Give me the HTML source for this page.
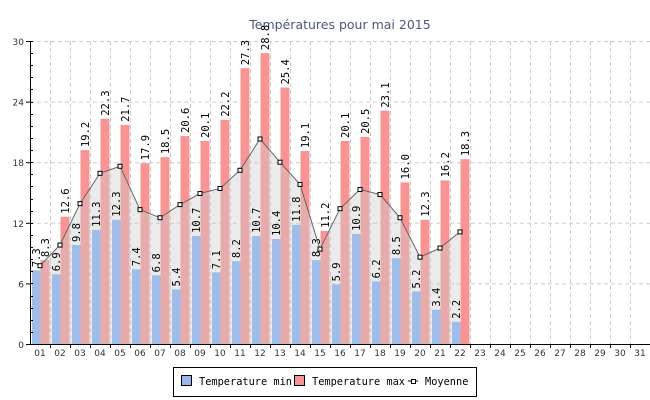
<!DOCTYPE html>
<html><head><meta charset="utf-8"><style>
body{margin:0;background:#fff;width:650px;height:400px;overflow:hidden}
svg{display:block}
</style></head><body>
<svg id="chart" width="650" height="400" xmlns="http://www.w3.org/2000/svg">
<text x="340" y="29" text-anchor="middle" font-family="DejaVu Sans, sans-serif" font-size="12.5" fill="#4a5878">Températures pour mai 2015</text>
<g id="grid"></g><g id="bars"></g><g id="area"></g><g id="bars2"></g><g id="axes"></g><g id="labels"></g>
<g>
<rect x="173.5" y="367.5" width="303" height="29" fill="#fff" stroke="#000"/>
<g><rect x="181.5" y="375.5" width="10" height="10" fill="#97b8ef" stroke="#000"/>
<text x="199" y="385" font-family="DejaVu Sans Mono, monospace" font-size="10.3">Temperature min</text></g>
<g><rect x="294.5" y="375.5" width="10" height="10" fill="#f99494" stroke="#000"/>
<text x="312" y="385" font-family="DejaVu Sans Mono, monospace" font-size="10.3">Temperature max</text></g>
<g><line x1="408" y1="381" x2="418" y2="381" stroke="#000"/><rect x="411.5" y="379.5" width="4" height="4" fill="#fff" stroke="#000"/>
<text x="425" y="385" font-family="DejaVu Sans Mono, monospace" font-size="10.3">Moyenne</text></g>
</g>
</svg>
<script>
const days=["01","02","03","04","05","06","07","08","09","10","11","12","13","14","15","16","17","18","19","20","21","22","23","24","25","26","27","28","29","30","31"];
const minTemps=[7.3,6.9,9.8,11.3,12.3,7.4,6.8,5.4,10.7,7.1,8.2,10.7,10.4,11.8,8.3,5.9,10.9,6.2,8.5,5.2,3.4,2.2];
const maxTemps=[8.3,12.6,19.2,22.3,21.7,17.9,18.5,20.6,20.1,22.2,27.3,28.8,25.4,19.1,11.2,20.1,20.5,23.1,16.0,12.3,16.2,18.3];
const avgTemps=[7.75,9.8,13.9,16.9,17.6,13.3,12.5,13.8,14.9,15.4,17.2,20.3,18.0,15.8,9.4,13.4,15.3,14.8,12.5,8.6,9.5,11.1];
const yTicks=[0,6,12,18,24,30];
const NS="http://www.w3.org/2000/svg";
const X0=30,BW=20,Y0=344,YT=41,YMAX=30;
const xb=i=>X0+i*BW;
const y=v=>Y0-(v/YMAX)*(Y0-YT);
function mk(tag,attrs,parent,txt){const e=document.createElementNS(NS,tag);for(const k in attrs)e.setAttribute(k,attrs[k]);if(txt!==undefined)e.textContent=txt;parent.appendChild(e);return e;}
const grid=document.getElementById('grid'),bars=document.getElementById('bars'),bars2=document.getElementById('bars2'),area=document.getElementById('area'),axes=document.getElementById('axes'),labels=document.getElementById('labels');
const R=X0+days.length*BW;
yTicks.forEach(t=>{if(t>0){const l=mk('line',{x1:X0,x2:R,y1:y(t)+.5,y2:y(t)+.5,stroke:'#ccc','stroke-dasharray':'4,3'},grid);

}
const tx=mk('text',{x:X0-6,y:y(t)+4,'text-anchor':'end','font-family':'DejaVu Sans, sans-serif','font-size':'9',fill:'#333'},axes,String(t));


mk('line',{x1:X0-4,x2:X0,y1:y(t)+.5,y2:y(t)+.5,stroke:'#000'},axes);});
for(let v=1.2;v<YMAX;v+=1.2){mk('line',{x1:X0,x2:X0+3,y1:Math.round(y(v))+.5,y2:Math.round(y(v))+.5,stroke:'#000'},axes);}
days.forEach((d,i)=>{const gx=xb(i+1)+.5;if(i<days.length-1){const l=mk('line',{x1:gx,x2:gx,y1:YT,y2:Y0,stroke:'#ccc','stroke-dasharray':'4,3'},grid);

}
mk('line',{x1:gx,x2:gx,y1:Y0,y2:Y0+4,stroke:'#000'},axes);
const t=mk('text',{x:xb(i)+10,y:Y0+12,'text-anchor':'middle','font-family':'DejaVu Sans, sans-serif','font-size':'9',fill:'#333'},axes,d);

});
function vlabel(cx,v){const yy=y(v)-3;const t=mk('text',{x:cx+4,y:yy,transform:`rotate(-90 ${cx+4} ${yy})`,'font-family':'DejaVu Sans Mono, monospace','font-size':'10.5',fill:'#000'},labels,v.toFixed(1));

}
minTemps.forEach((v,i)=>{const r=mk('rect',{x:xb(i)+2,y:y(v),width:8.5,height:Y0-y(v),fill:'#a0bdea'},bars2);


vlabel(xb(i)+6,v);});
maxTemps.forEach((v,i)=>{const r=mk('rect',{x:xb(i)+10.5,y:y(v),width:9,height:Y0-y(v),fill:'#f99494'},bars);


vlabel(xb(i)+15,v);});
const pts=avgTemps.map((v,i)=>[xb(i)+10,y(v)]);
const poly=mk('polygon',{points:pts.map(p=>p.join(',')).join(' ')+` ${pts[pts.length-1][0]},${Y0} ${pts[0][0]},${Y0}`,fill:'rgba(205,205,205,0.4)'},area);


const pl=mk('polyline',{points:pts.map(p=>p.join(',')).join(' '),fill:'none',stroke:'#666','stroke-width':'1'},labels);


pts.forEach((p,i)=>{const m=mk('rect',{x:p[0]-2,y:p[1]-2,width:4,height:4,fill:'#fff',stroke:'#000'},labels);

});
mk('line',{x1:X0+.5,x2:X0+.5,y1:YT,y2:Y0,stroke:'#000'},axes);
mk('line',{x1:X0,x2:R,y1:Y0+.5,y2:Y0+.5,stroke:'#000'},axes);
</script>
</body></html>
